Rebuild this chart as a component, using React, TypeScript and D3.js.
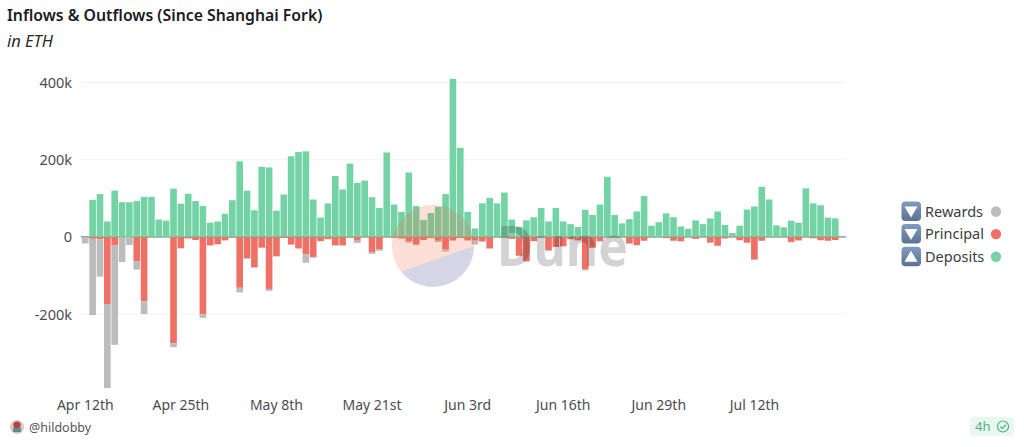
import React, { useEffect, useRef } from 'react';
import * as d3 from 'd3';

const WIDTH = 1024;
const HEIGHT = 447;
const FONT = '"Noto Sans", sans-serif';

const START_DAY = new Date(2023, 3, 12);
const TICK_EVERY = 13;
const Y_TICKS = [-200000, 0, 200000, 400000];

// daily flows in thousands of ETH
const deposits = [
  0, 96, 111, 40, 120, 90, 90, 93, 104, 104, 45, 42, 125, 86, 112, 93, 80, 37, 40, 60,
  95, 196, 120, 69, 182, 180, 68, 110, 209, 220, 222, 97, 50, 87, 158, 123, 190, 140, 146, 103,
  75, 219, 84, 65, 167, 80, 44, 62, 78, 111, 410, 231, 65, 22, 87, 101, 87, 115, 45, 26,
  43, 51, 75, 40, 75, 40, 33, 26, 70, 57, 84, 156, 57, 35, 46, 66, 106, 29, 38, 61,
  51, 27, 21, 43, 33, 48, 66, 31, 10, 29, 71, 79, 130, 97, 30, 25, 42, 37, 126, 87,
  82, 50, 48, 2,
];
const principal = [
  0, 5, 6, 174, 22, 1, 0, 63, 167, 1, 1, 0, 276, 29, 4, 8, 201, 22, 19, 9,
  2, 132, 55, 78, 28, 135, 50, 3, 20, 30, 45, 52, 11, 6, 22, 22, 2, 10, 1, 39,
  33, 1, 2, 4, 11, 19, 8, 3, 10, 32, 9, 3, 8, 10, 12, 30, 1, 1, 5, 49,
  63, 11, 1, 35, 26, 24, 6, 9, 84, 28, 11, 1, 1, 1, 17, 21, 10, 1, 0, 3,
  10, 11, 1, 5, 1, 15, 23, 4, 1, 8, 15, 59, 10, 1, 1, 1, 13, 9, 1, 3,
  8, 10, 8, 0,
];
const rewards = [
  17, 198, 97, 218, 258, 64, 21, 22, 33, 0, 0, 0, 10, 1, 0, 0, 9, 1, 0, 0,
  0, 12, 2, 2, 0, 5, 1, 0, 0, 0, 22, 2, 0, 0, 1, 1, 0, 6, 0, 5,
  3, 0, 0, 0, 4, 3, 0, 0, 3, 6, 1, 0, 2, 10, 0, 1, 0, 0, 0, 1,
  1, 0, 0, 2, 0, 1, 0, 0, 3, 0, 1, 0, 0, 0, 1, 1, 0, 0, 0, 0,
  1, 1, 0, 0, 0, 1, 1, 0, 0, 1, 1, 1, 0, 0, 0, 0, 1, 1, 0, 1,
  1, 0, 0, 0,
];

const legendNames = ['Rewards', 'Principal', 'Deposits'];
const legendColors = ['#bcbcbc', '#ef7065', '#73d3a5'];
const legendUp = [false, false, true];

const ordinal = (d: number) => {
  if (d % 10 === 1 && d !== 11) return `${d}st`;
  if (d % 10 === 2 && d !== 12) return `${d}nd`;
  if (d % 10 === 3 && d !== 13) return `${d}rd`;
  return `${d}th`;
};

const App: React.FC = () => {
  const svgRef = useRef<SVGSVGElement>(null);

  useEffect(() => {
    document.body.style.margin = '0';
    if (!svgRef.current) return;

    const svg = d3.select(svgRef.current);
    svg.selectAll('*').remove();

    const days = d3.timeDay.range(START_DAY, d3.timeDay.offset(START_DAY, deposits.length));
    const rows = days.map((day, i) => ({
      day,
      Deposits: deposits[i] * 1000,
      Principal: -principal[i] * 1000,
      Rewards: -rewards[i] * 1000,
    }));

    const x = d3.scaleBand<Date>()
      .domain(days)
      .range([81.6, 846.3])
      .paddingInner(0.1)
      .paddingOuter(0.05);
    const y = d3.scaleLinear().domain([-200000, 400000]).range([314, 82.7]);

    const series = d3.stack<any>()
      .keys(['Principal', 'Rewards', 'Deposits'])
      .offset(d3.stackOffsetDiverging)(rows);
    const colorOf: Record<string, string> = {
      Rewards: legendColors[0],
      Principal: legendColors[1],
      Deposits: legendColors[2],
    };

    const defs = svg.append('defs');
    const grad = defs.append('linearGradient').attr('id', 'legend-icon')
      .attr('x1', 0).attr('y1', 0).attr('x2', 0).attr('y2', 1);
    grad.append('stop').attr('offset', '0%').attr('stop-color', '#7f9cc0');
    grad.append('stop').attr('offset', '100%').attr('stop-color', '#5d7291');

    // title
    svg.append('text').attr('x', 7).attr('y', 21)
      .attr('font-size', 15.8).attr('font-weight', 600).attr('fill', '#1b1b1f')
      .text('Inflows & Outflows (Since Shanghai Fork)');
    svg.append('text').attr('x', 7).attr('y', 47)
      .attr('font-size', 16.5).attr('font-style', 'italic').attr('fill', '#2a2a2e')
      .text('in ETH');

    // grid
    svg.append('g').selectAll('line')
      .data(Y_TICKS.filter(d => d !== 0))
      .enter().append('line')
      .attr('x1', 81).attr('x2', 846)
      .attr('y1', d => y(d)).attr('y2', d => y(d))
      .attr('stroke', '#f1f1f2').attr('stroke-width', 1);
    svg.append('line')
      .attr('x1', 81).attr('x2', 846)
      .attr('y1', y(0)).attr('y2', y(0))
      .attr('stroke', '#55595c').attr('stroke-width', 1);

    // y labels
    svg.append('g').selectAll('text')
      .data(Y_TICKS)
      .enter().append('text')
      .attr('x', 72).attr('y', d => y(d) + 5.5)
      .attr('text-anchor', 'end').attr('font-size', 14.5).attr('fill', '#4c4c50')
      .text(d => (d === 0 ? '0' : `${d / 1000}k`));

    // x labels
    svg.append('g').selectAll('text')
      .data(days.filter((_, i) => i % TICK_EVERY === 0 && i < 100))
      .enter().append('text')
      .attr('x', d => (x(d) as number) + x.bandwidth() / 2)
      .attr('y', 410)
      .attr('text-anchor', 'middle').attr('font-size', 14).attr('fill', '#4c4c50')
      .text(d => `${d3.timeFormat('%b')(d)} ${ordinal(d.getDate())}`);

    // bars
    svg.append('g').selectAll('g')
      .data(series)
      .enter().append('g')
      .attr('fill', d => colorOf[d.key])
      .selectAll('rect')
      .data(d => d)
      .enter().append('rect')
      .attr('x', d => x(d.data.day) as number)
      .attr('width', x.bandwidth())
      .attr('y', d => Math.min(y(d[0]), y(d[1])))
      .attr('height', d => Math.abs(y(d[0]) - y(d[1])));

    // watermark, sits over the bars
    const mark = svg.append('g').attr('pointer-events', 'none');
    mark.append('path')
      .attr('d', 'M401,271.5 A41,41 0 1 1 474,246 Z')
      .attr('fill', '#f4603e').attr('opacity', 0.2);
    mark.append('path')
      .attr('d', 'M401,271.5 A41,41 0 0 0 474,246 Z')
      .attr('fill', '#2b2c7c').attr('opacity', 0.2);
    mark.append('text').attr('x', 497).attr('y', 265.5)
      .attr('font-size', 56).attr('font-weight', 700).attr('fill', '#000').attr('opacity', 0.17)
      .attr('textLength', 131).attr('lengthAdjust', 'spacingAndGlyphs')
      .text('Dune');

    // legend
    const legend = svg.append('g').selectAll('g')
      .data(legendNames)
      .enter().append('g')
      .attr('transform', (_, i) => `translate(0,${211.5 + i * 22.6})`);
    legend.append('rect')
      .attr('x', 901.5).attr('y', -10).attr('width', 19.5).attr('height', 19.5).attr('rx', 4)
      .attr('fill', 'url(#legend-icon)');
    legend.append('path')
      .attr('d', (_, i) => (legendUp[i]
        ? 'M911,-6 L917.5,5 L904.5,5 Z'
        : 'M911,6 L917.5,-5 L904.5,-5 Z'))
      .attr('fill', '#fff');
    legend.append('text')
      .attr('x', 925).attr('y', 5)
      .attr('font-size', 14.5).attr('fill', '#3c3c40')
      .text(d => d);
    legend.append('circle')
      .attr('cx', 996).attr('cy', 0).attr('r', 5.2)
      .attr('fill', (_, i) => legendColors[i]);

    // footer
    const avatar = svg.append('g');
    avatar.append('circle').attr('cx', 17).attr('cy', 427).attr('r', 7).attr('fill', '#d9c6c6');
    avatar.append('circle').attr('cx', 17).attr('cy', 425).attr('r', 3.6).attr('fill', '#b2433d');
    avatar.append('rect').attr('x', 13).attr('y', 428).attr('width', 8).attr('height', 4).attr('fill', '#5f8c8f');
    svg.append('text').attr('x', 29).attr('y', 432)
      .attr('font-size', 12.5).attr('fill', '#55555a').text('@hildobby');

    svg.append('rect').attr('x', 970).attr('y', 417).attr('width', 44).attr('height', 19).attr('rx', 4)
      .attr('fill', '#e8f8f0');
    svg.append('text').attr('x', 975).attr('y', 431)
      .attr('font-size', 13).attr('fill', '#4fae82').text('4h');
    svg.append('circle').attr('cx', 1003).attr('cy', 426.5).attr('r', 5.5)
      .attr('fill', 'none').attr('stroke', '#4fae82').attr('stroke-width', 1.2);
    svg.append('path').attr('d', 'M1000.5,426.5 L1002.5,428.7 L1005.8,424.6')
      .attr('fill', 'none').attr('stroke', '#4fae82').attr('stroke-width', 1.2);
  }, []);

  return (
    <svg
      ref={svgRef}
      width={WIDTH}
      height={HEIGHT}
      style={{ display: 'block', background: '#fff', fontFamily: FONT }}
    />
  );
};

export default App;
